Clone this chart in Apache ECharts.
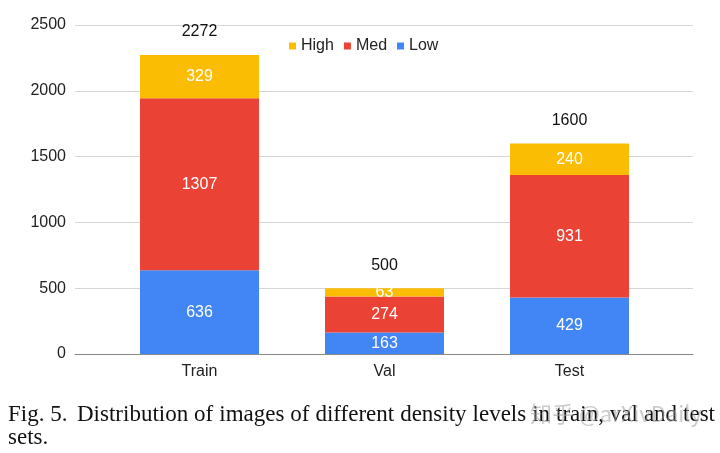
<!DOCTYPE html>
<html>
<head>
<meta charset="utf-8">
<script src="https://cdn.jsdelivr.net/npm/echarts@6/dist/echarts.min.js"></script>
<style>
  html, body { margin: 0; padding: 0; background: #fff; }
  #chart { width: 720px; height: 453px; }
</style>
</head>
<body>
<div id="chart"></div>
<script>
// data
var categories = ['Train', 'Val', 'Test'];
var lowValues = [636, 163, 429];
var medValues = [1307, 274, 931];
var highValues = [329, 63, 240];
var totals = [2272, 500, 1600];
var yTicks = [0, 500, 1000, 1500, 2000, 2500];

var FONT = '"Liberation Sans", Arial, sans-serif';
var CAPTION_FONT = '23px "Liberation Serif", "Times New Roman", serif';

var chart = echarts.init(document.getElementById('chart'), null, { renderer: 'canvas' });

function inside() {
    return {
        show: true,
        position: 'inside',
        color: '#fff',
        fontSize: 16,
        fontFamily: FONT
    };
}

function capText(s, x, y) {
    return {
        type: 'text', x: x, y: y, z: 10,
        style: { text: s, font: CAPTION_FONT, fill: '#111', verticalAlign: 'middle' }
    };
}

// justify the first caption line like the LaTeX original
function captionWords() {
    var words = 'Distribution of images of different density levels in train, val and test'.split(' ');
    var ctx = document.createElement('canvas').getContext('2d');
    ctx.font = CAPTION_FONT;
    var x0 = 77, x1 = 715;
    var sum = 0;
    var w = words.map(function (s) { var m = ctx.measureText(s).width; sum += m; return m; });
    var gap = (x1 - x0 - sum) / (words.length - 1);
    var out = [];
    var x = x0;
    for (var i = 0; i < words.length; i++) {
        out.push(capText(words[i], x, 415));
        x += w[i] + gap;
    }
    return out;
}

var graphics = [
    capText('Fig. 5.', 8, 415),
    capText('sets.', 8, 438),
    {
        type: 'text', x: 530, y: 414, z: 11,
        style: {
            text: '知乎 @arXivDaily',
            font: '22px "Noto Sans CJK SC", sans-serif',
            fill: 'rgba(160,160,160,0.55)',
            verticalAlign: 'middle'
        }
    }
].concat(captionWords());

var option = {
    animation: false,
    backgroundColor: '#fff',
    legend: {
        data: ['High', 'Med', 'Low'],
        left: 284,
        top: 33,
        icon: 'rect',
        itemWidth: 7,
        itemHeight: 7,
        itemGap: 10,
        textStyle: { fontSize: 16, fontFamily: FONT, color: '#222' }
    },
    // grid 0 only carries the gridlines and y labels (wider than the bars' grid)
    grid: [
        { left: 75, right: 27, top: 25, bottom: 99 },
        { left: 107, right: 58, top: 25, bottom: 99 }
    ],
    xAxis: [
        {
            gridIndex: 0, type: 'category', data: [],
            axisLine: { show: true, lineStyle: { color: '#888', width: 1 } },
            axisTick: { show: false }, axisLabel: { show: false }
        },
        {
            gridIndex: 1, type: 'category', data: categories,
            axisLine: { show: false }, axisTick: { show: false },
            axisLabel: { fontSize: 16, fontFamily: FONT, color: '#222', margin: 10 }
        }
    ],
    yAxis: [
        {
            gridIndex: 0, type: 'value', min: yTicks[0], max: yTicks[yTicks.length - 1], interval: 500,
            axisLine: { show: false }, axisTick: { show: false },
            axisLabel: {
                fontSize: 16, fontFamily: FONT, color: '#222', margin: 9,
                formatter: function (v) { return String(v); }
            },
            splitLine: { lineStyle: { color: '#d6d6d6', width: 1 } }
        },
        {
            gridIndex: 1, type: 'value', min: yTicks[0], max: yTicks[yTicks.length - 1], interval: 500,
            show: false, splitLine: { show: false }
        }
    ],
    series: [
        {
            name: 'Total', type: 'bar', xAxisIndex: 1, yAxisIndex: 1,
            data: totals, barWidth: 119, barGap: '-100%', z: 1,
            itemStyle: { color: 'rgba(0,0,0,0)' },
            label: { show: true, position: 'top', distance: 15, color: '#111', fontSize: 16, fontFamily: FONT },
            silent: true
        },
        {
            name: 'Low', type: 'bar', stack: 'all', xAxisIndex: 1, yAxisIndex: 1,
            data: lowValues, barWidth: 119, z: 2,
            itemStyle: { color: '#4285f4' }, label: inside()
        },
        {
            name: 'Med', type: 'bar', stack: 'all', xAxisIndex: 1, yAxisIndex: 1,
            data: medValues, barWidth: 119, z: 2,
            itemStyle: { color: '#ea4335' }, label: inside()
        },
        {
            name: 'High', type: 'bar', stack: 'all', xAxisIndex: 1, yAxisIndex: 1,
            data: highValues, barWidth: 119, z: 2,
            itemStyle: { color: '#fbbc04' }, label: inside()
        }
    ],
    graphic: graphics
};

chart.setOption(option);
</script>
</body>
</html>
